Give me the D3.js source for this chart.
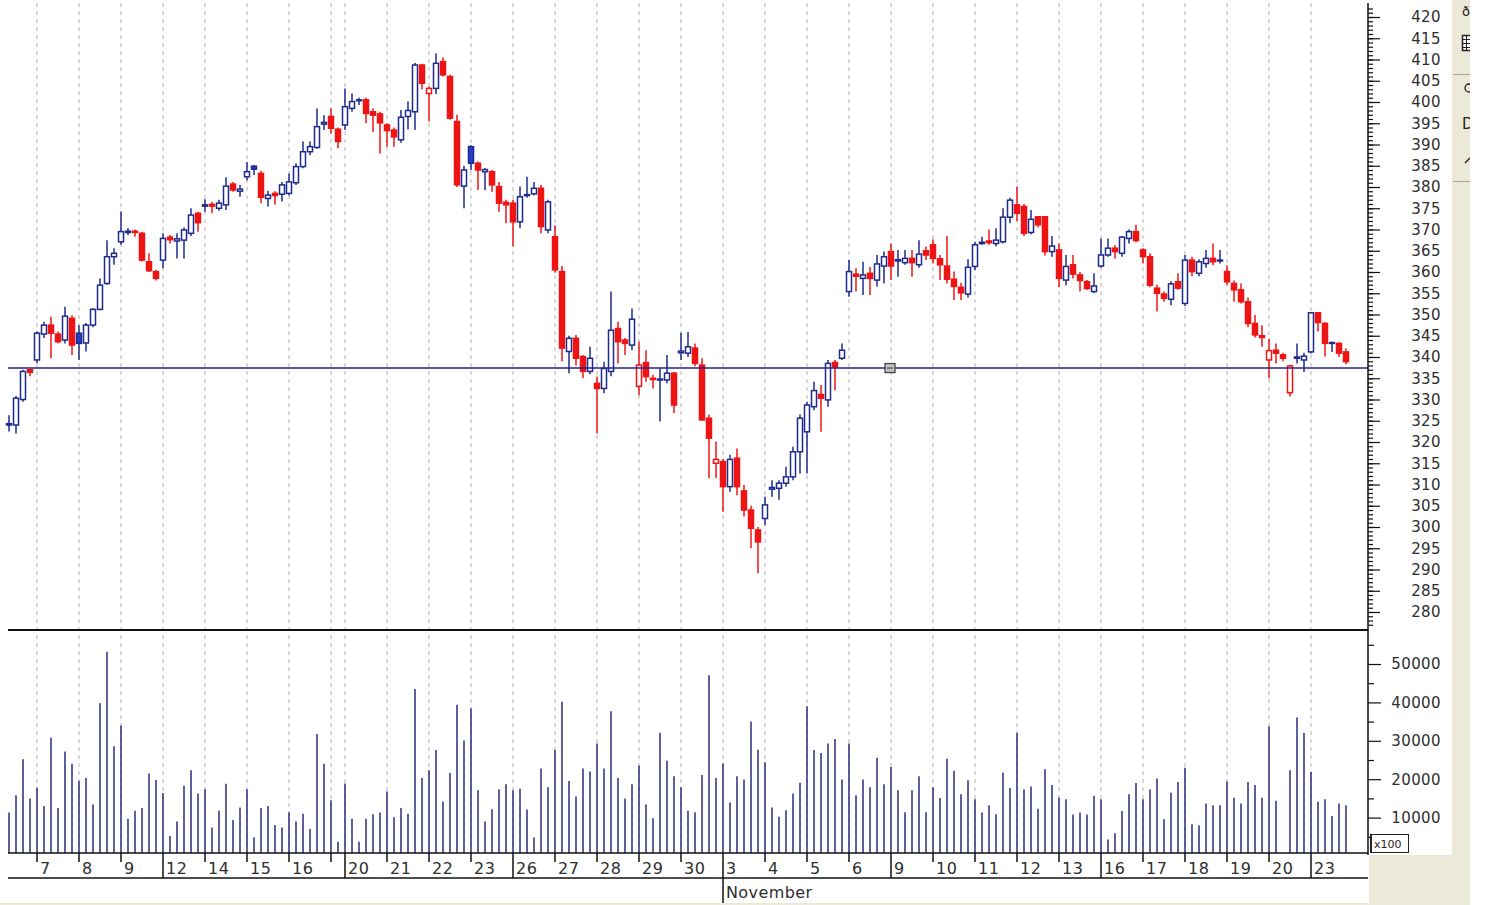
<!DOCTYPE html>
<html>
<head>
<meta charset="utf-8">
<script src="https://cdn.jsdelivr.net/npm/d3@7"></script>
<style>
  body { margin: 0; background: #fff; }
  svg { display: block; font-family: "DejaVu Sans", sans-serif; }
</style>
</head>
<body>
<svg id="chart" width="1485" height="905"></svg>
<script>
// hourly bars, 6 per session
const opens = [
  324.0,324.0,330.0,337.0,339.3,345.4,347.5,345.4,344.0,349.1,
  345.6,343.3,347.5,351.2,357.3,363.6,367.1,369.3,369.6,369.1,
  362.4,360.1,362.8,368.2,367.3,367.5,369.1,373.8,375.5,375.9,
  375.0,375.8,380.7,379.0,382.4,384.9,383.2,377.3,378.5,378.3,
  378.5,381.0,384.8,388.3,389.3,394.8,396.6,393.6,394.6,398.5,
  400.3,400.5,397.7,397.2,394.6,393.4,391.1,396.6,397.7,408.7,
  402.0,403.2,409.5,406.0,395.4,380.2,389.5,385.6,383.6,383.6,
  380.1,376.4,376.2,371.8,378.0,378.4,379.7,369.9,368.3,360.1,
  341.3,344.4,340.1,336.6,333.8,332.6,336.6,346.7,344.0,342.8,
  333.1,338.7,335.0,334.6,334.6,336.2,341.0,340.9,342.1,338.1,
  325.6,315.0,315.4,309.5,316.2,308.5,304.0,299.3,302.0,308.9,
  309.1,310.3,311.8,317.7,322.4,328.3,331.2,329.9,338.7,339.7,
  355.4,359.5,358.5,359.7,358.1,361.4,364.8,362.6,362.2,363.2,
  361.7,365.0,366.4,363.1,361.4,358.3,356.4,354.8,361.3,366.7,
  367.3,366.7,367.1,372.9,375.8,375.4,369.3,373.0,373.0,364.8,
  365.2,358.1,361.7,359.3,357.7,355.4,361.4,364.0,365.6,364.4,
  367.9,369.5,365.2,363.6,356.2,354.8,353.6,357.7,352.6,362.8,
  359.7,362.0,363.2,362.6,360.1,357.3,355.8,353.0,347.9,345.0,
  339.3,341.6,340.5,331.6,339.7,339.3,341.2,350.4,347.9,343.2,
  343.2,341.2
];
const highs = [
  326.3,330.8,337.0,337.2,346.0,348.3,349.5,346.0,351.8,349.8,
  347.5,348.0,351.5,358.5,367.5,365.6,374.2,370.3,370.0,369.5,
  364.4,360.5,369.1,368.7,369.1,370.5,375.0,374.2,377.1,376.5,
  377.0,382.3,381.2,380.5,385.9,385.2,383.8,379.1,379.0,381.2,
  383.2,385.6,390.7,390.7,398.5,396.9,398.5,394.0,403.2,402.0,
  401.0,401.0,398.5,397.7,395.0,394.0,398.1,400.1,409.2,409.0,
  403.6,411.4,410.5,406.4,397.0,385.0,389.8,386.0,384.5,384.0,
  381.2,377.0,377.0,380.1,382.4,381.2,380.5,377.0,371.0,361.4,
  345.0,345.2,340.5,342.4,335.4,338.9,355.4,348.3,344.5,351.4,
  343.6,341.6,335.8,337.3,340.5,336.5,345.7,345.9,343.2,339.7,
  326.4,320.1,316.0,317.0,318.5,309.9,305.0,300.0,307.1,311.0,
  311.0,314.2,318.9,326.5,329.5,334.2,333.4,339.3,339.3,343.2,
  362.8,360.9,362.4,361.2,364.0,364.8,366.7,365.2,365.2,365.2,
  367.5,366.0,367.7,364.0,368.5,360.1,357.5,363.0,367.1,368.3,
  370.0,370.3,375.0,377.5,380.1,376.0,374.6,373.2,373.2,368.5,
  366.7,364.0,364.0,360.0,358.1,359.7,367.9,367.9,366.3,368.5,
  370.0,371.1,365.6,364.4,357.0,355.4,357.8,359.7,364.0,363.6,
  363.0,365.2,366.7,365.2,361.6,358.0,357.3,354.0,349.9,347.5,
  344.3,343.2,341.0,338.2,343.2,341.0,350.6,350.6,348.2,343.6,
  343.5,342.0
];
const lows = [
  322.5,322.0,329.5,335.5,338.6,344.5,339.7,343.2,343.2,340.5,
  339.3,341.3,347.0,351.0,357.0,361.7,366.4,368.7,368.3,362.5,
  360.0,358.0,360.9,366.7,363.2,363.2,368.5,369.5,374.2,373.8,
  374.4,374.6,378.9,377.7,381.6,382.8,376.2,375.4,375.8,376.6,
  378.0,380.5,384.4,387.5,389.0,393.4,392.6,389.1,393.4,397.7,
  399.3,395.0,393.0,387.9,389.5,389.5,390.4,393.6,393.4,403.0,
  395.4,401.9,406.0,395.8,380.0,375.0,384.0,379.3,379.3,378.9,
  374.2,371.5,366.0,370.3,377.5,378.0,369.1,369.1,359.8,339.0,
  336.2,338.0,335.0,336.0,322.0,331.5,335.5,338.5,340.5,341.6,
  331.0,334.2,332.6,324.8,333.8,326.8,339.3,340.0,337.8,325.0,
  311.5,311.5,303.6,308.3,307.5,302.5,295.0,289.1,300.5,307.1,
  306.4,309.5,311.0,312.6,312.6,327.5,322.4,328.3,332.2,339.3,
  354.2,355.4,354.6,354.6,356.6,357.3,358.1,358.9,361.7,358.9,
  361.0,362.8,362.0,358.1,357.3,353.4,353.4,354.0,360.5,366.4,
  366.4,366.0,366.7,371.5,372.0,368.5,368.9,370.5,363.9,363.6,
  356.4,356.9,358.5,355.4,355.8,355.0,361.0,363.6,363.2,363.6,
  366.7,367.0,362.0,356.4,350.7,353.0,352.2,355.8,352.0,359.0,
  359.0,361.0,361.6,362.0,357.0,353.0,352.6,347.0,344.6,342.4,
  335.0,338.5,339.0,330.7,338.5,336.5,340.8,346.0,340.1,341.2,
  340.0,338.3
];
const closes = [
  324.3,330.3,336.6,336.4,345.6,347.5,345.6,343.6,349.6,342.8,
  343.2,347.5,351.2,356.9,363.6,364.4,369.5,369.6,369.3,362.8,
  360.3,358.5,367.9,367.6,367.8,369.9,373.4,371.6,375.8,375.5,
  376.2,380.2,379.3,379.5,383.6,384.2,377.6,378.1,378.0,380.5,
  381.2,384.8,388.3,389.5,394.2,395.2,393.8,390.7,398.9,400.1,
  400.5,397.3,396.9,395.1,393.3,391.8,396.4,398.0,408.7,404.4,
  403.2,409.1,406.4,396.2,380.5,384.0,385.6,384.0,384.1,380.5,
  376.2,375.8,371.8,377.7,378.2,379.7,370.7,376.5,360.5,342.1,
  344.4,339.7,336.6,339.7,332.6,337.3,346.3,343.6,343.2,348.9,
  338.1,335.4,334.7,334.8,336.2,328.7,341.4,342.4,338.5,325.2,
  320.9,315.9,309.5,315.9,309.5,304.0,299.7,296.5,305.2,309.3,
  310.3,311.8,317.7,325.6,328.7,332.1,330.3,338.5,337.7,341.6,
  360.1,359.0,359.3,358.5,361.9,363.6,361.4,362.9,363.2,362.2,
  364.2,364.0,363.2,361.7,358.3,356.6,355.1,361.1,366.4,367.0,
  366.9,367.5,372.9,376.9,373.8,369.1,372.4,371.1,364.8,366.1,
  358.5,361.3,359.5,358.0,356.1,356.7,364.0,365.6,364.8,368.2,
  369.5,367.4,363.6,356.9,355.0,353.8,357.2,356.2,362.8,360.1,
  362.4,363.2,362.4,362.8,357.7,355.8,353.0,347.9,345.2,344.6,
  341.5,340.9,339.7,337.9,340.0,340.2,350.4,348.1,343.2,343.4,
  340.9,338.9
];
// volume as shown on the axis (x100 units)
const volumes = [
  11300,15800,25200,15000,17800,13000,30800,12500,27200,24000,
  19500,20300,13400,39800,53200,28600,34000,9700,11800,12500,
  21500,19800,16400,5200,9000,18300,22300,16300,17400,7400,
  11800,18800,9400,12600,17400,4900,12500,13000,8100,7400,
  11300,9000,11000,7000,31800,24000,14500,3700,18900,9700,
  3700,9700,10900,11300,16800,10100,12500,11000,43500,20300,
  22300,27600,14200,21600,39400,30100,38400,17100,9000,12200,
  17400,18700,17100,17500,12100,4800,22800,17900,27600,40200,
  19500,15500,22800,22000,29300,22800,37700,20300,15000,18700,
  23600,13400,9800,32100,24800,20800,17900,11800,11400,21100,
  47100,20300,24100,13900,20800,19900,35000,27700,24400,12600,
  10200,11900,16300,19100,39000,27600,26800,29300,30500,19900,
  29300,15800,19900,17900,25600,18700,23200,17100,11400,17100,
  20800,11400,17900,15100,25300,22200,16100,19700,14800,11300,
  13200,10900,21700,17700,32000,17300,18100,12300,22600,18500,
  15200,14800,10800,11300,10800,15700,14800,4300,5900,11700,
  16100,19000,14800,17300,20200,9600,16500,19300,23000,8300,
  8000,13700,13200,13200,19400,15200,13700,19300,18500,15200,
  33700,14400,0,22300,36100,32000,21900,14100,14800,10400,
  13700,13200
];
// sessions on the time axis
const dayLabels = ["", "7", "8", "9", "12", "14", "15", "16", "", "20", "21", "22", "23",
  "26", "27", "28", "29", "30", "3", "4", "5", "6", "9", "10", "11", "12", "13",
  "16", "17", "18", "19", "20", "23"];
const dayBars = [4, 6, 6, 6, 6, 6, 6, 6, 2, 6, 6, 6, 6,
  6, 6, 6, 6, 6, 6, 6, 6, 6, 6, 6, 6, 6, 6,
  6, 6, 6, 6, 6, 6];
const weekStarts = [false, false, false, false, true, false, false, false, false, true, false, false, false,
  true, false, false, false, false, true, false, false, false, true, false, false, false, false,
  true, false, false, false, false, true];
const monthLabel = "November";
const monthStartDay = 18;
const levelPrice = 337.4;
const levelHandleBar = 126;

const svg = d3.select("#chart");
const width = 1485, height = 905;
const plotLeft = 8, plotRight = 1368;
const priceTop = 3, priceBottom = 629;
const volBottom = 853;

const upColor = "#1e2a8c";
const upFill = "#2340c8";
const downColor = "#ee1414";
const gridColor = "#b4b4b4";

const x = d3.scaleLinear().domain([0, closes.length - 1]).range([9, 9 + 7 * (closes.length - 1)]);
const yP = d3.scaleLinear().domain([280, 420]).range([612, 17]);
const yV = d3.scaleLinear().domain([0, 50000]).range([856, 664]);

// backgrounds
svg.append("rect").attr("width", width).attr("height", height).attr("fill", "#fff");
svg.append("rect").attr("x", 1452).attr("y", 0).attr("width", 18).attr("height", height).attr("fill", "#ece9d8");
svg.append("rect").attr("x", 1369).attr("y", 855).attr("width", 101).attr("height", 50).attr("fill", "#ece9d8");
svg.append("rect").attr("x", 0).attr("y", 903).attr("width", 1470).attr("height", 2).attr("fill", "#ece9d8");

// session start indices
let acc = 0;
const days = dayLabels.map((label, k) => {
  const d = { label: label, start: acc, week: weekStarts[k], k: k };
  acc += dayBars[k];
  return d;
});
const dayTicks = days.slice(1);

// dashed day gridlines
svg.append("g").selectAll("line")
  .data(dayTicks)
  .enter().append("line")
  .attr("x1", d => x(d.start)).attr("x2", d => x(d.start))
  .attr("y1", priceTop).attr("y2", volBottom)
  .attr("stroke", gridColor).attr("stroke-width", 1)
  .attr("stroke-dasharray", "4,4");

// candles
const bars = closes.map((c, i) => ({
  i: i, o: opens[i], h: highs[i], l: lows[i], c: c,
  up: i === 0 ? true : c >= closes[i - 1]
}));

const candle = svg.append("g").selectAll("g")
  .data(bars)
  .enter().append("g");

candle.append("line")
  .attr("x1", d => x(d.i)).attr("x2", d => x(d.i))
  .attr("y1", d => yP(d.h)).attr("y2", d => yP(d.l))
  .attr("stroke", d => d.up ? upColor : downColor)
  .attr("stroke-width", 1.5);

candle.append("rect")
  .attr("x", d => x(d.i) - 2.5)
  .attr("width", 5)
  .attr("y", d => yP(Math.max(d.o, d.c)))
  .attr("height", d => Math.max(0.8, Math.abs(yP(d.o) - yP(d.c))))
  .attr("fill", d => d.c >= d.o ? "#fff" : (d.up ? upFill : downColor))
  .attr("stroke", d => d.up ? upColor : downColor)
  .attr("stroke-width", 1.5);

// horizontal level line and its handle
svg.append("line")
  .attr("x1", plotLeft).attr("x2", plotRight)
  .attr("y1", yP(levelPrice)).attr("y2", yP(levelPrice))
  .attr("stroke", "#23238c").attr("stroke-width", 1.5);
svg.append("rect")
  .attr("x", x(levelHandleBar) - 6).attr("y", yP(levelPrice) - 4.5)
  .attr("width", 10).attr("height", 9)
  .attr("fill", "#c4c4c4").attr("stroke", "#444").attr("stroke-width", 1.3);
svg.append("line")
  .attr("x1", x(levelHandleBar) - 4).attr("x2", x(levelHandleBar) + 2)
  .attr("y1", yP(levelPrice)).attr("y2", yP(levelPrice))
  .attr("stroke", "#666").attr("stroke-width", 1.5);

// volume bars
svg.append("g").selectAll("line")
  .data(volumes.map((v, i) => ({ i: i, v: v })).filter(d => d.v > 0))
  .enter().append("line")
  .attr("x1", d => x(d.i)).attr("x2", d => x(d.i))
  .attr("y1", volBottom).attr("y2", d => yV(d.v))
  .attr("stroke", "#2a2d7e").attr("stroke-width", 1.5);

// panel frame lines
svg.append("line").attr("x1", plotLeft).attr("x2", plotRight)
  .attr("y1", 630).attr("y2", 630).attr("stroke", "#111").attr("stroke-width", 2);
svg.append("line").attr("x1", plotLeft).attr("x2", plotRight)
  .attr("y1", volBottom).attr("y2", volBottom).attr("stroke", "#111").attr("stroke-width", 1.5);
svg.append("line").attr("x1", plotLeft).attr("x2", plotRight)
  .attr("y1", 878).attr("y2", 878).attr("stroke", "#111").attr("stroke-width", 1.5);
svg.append("line").attr("x1", plotRight).attr("x2", plotRight)
  .attr("y1", priceTop).attr("y2", 855).attr("stroke", "#111").attr("stroke-width", 1.5);

// price axis
function styleAxis(g) {
  g.select(".domain").remove();
  g.selectAll(".tick line").attr("stroke", "#111").attr("stroke-width", 1.2);
  g.selectAll(".tick text")
    .attr("x", 73).attr("text-anchor", "end")
    .attr("fill", "#2e2e2e")
    .style("font-family", "'DejaVu Sans', sans-serif")
    .style("font-size", "15px")
    .style("letter-spacing", "0.4px");
}
svg.append("g").attr("transform", `translate(${plotRight},0)`)
  .call(d3.axisRight(yP).tickValues(d3.range(277, 423)).tickSize(5).tickFormat(""))
  .call(styleAxis);
svg.append("g").attr("transform", `translate(${plotRight},0)`)
  .call(d3.axisRight(yP).tickValues(d3.range(280, 421, 5)).tickSize(12).tickFormat(d3.format("d")))
  .call(styleAxis);

// volume axis
svg.append("g").attr("transform", `translate(${plotRight},0)`)
  .call(d3.axisRight(yV).tickValues(d3.range(5000, 56000, 10000)).tickSize(6).tickFormat(""))
  .call(styleAxis);
svg.append("g").attr("transform", `translate(${plotRight},0)`)
  .call(d3.axisRight(yV).tickValues(d3.range(10000, 50001, 10000)).tickSize(13).tickFormat(d3.format("d")))
  .call(styleAxis);

// x100 box
svg.append("rect").attr("x", 1370.5).attr("y", 834.5).attr("width", 38).attr("height", 18)
  .attr("fill", "#fff").attr("stroke", "#222").attr("stroke-width", 1);
svg.append("line").attr("x1", 1371).attr("x2", 1371).attr("y1", 834).attr("y2", 853)
  .attr("stroke", "#222").attr("stroke-width", 2);
svg.append("text").attr("x", 1374).attr("y", 848).text("x100")
  .attr("fill", "#222").style("font-size", "11px");

// time axis ticks and labels
const xAxis = svg.append("g");
xAxis.selectAll("line")
  .data(dayTicks)
  .enter().append("line")
  .attr("x1", d => x(d.start)).attr("x2", d => x(d.start))
  .attr("y1", volBottom)
  .attr("y2", d => d.k === monthStartDay ? 903 : (d.week ? 878 : 862))
  .attr("stroke", "#111").attr("stroke-width", 1.5);
xAxis.selectAll("text")
  .data(dayTicks.filter(d => d.label !== ""))
  .enter().append("text")
  .attr("x", d => x(d.start) + 3)
  .attr("y", 874)
  .text(d => d.label)
  .attr("fill", "#2e2e2e")
  .style("font-size", "16px")
  .style("letter-spacing", "0.5px");
svg.append("text")
  .attr("x", x(days[monthStartDay].start) + 3)
  .attr("y", 898)
  .text(monthLabel)
  .attr("fill", "#2e2e2e")
  .style("font-size", "16px")
  .style("letter-spacing", "0.4px");

// side toolbar (partly cut off)
const tb = svg.append("g");
tb.append("text").attr("x", 1462).attr("y", 16).text("ð").attr("fill", "#222").style("font-size", "13px");
tb.append("rect").attr("x", 1462.5).attr("y", 35.5).attr("width", 10).attr("height", 15)
  .attr("fill", "#fff").attr("stroke", "#222").attr("stroke-width", 1.5);
[39.5, 43.5, 47.5].forEach(yy => tb.append("line").attr("x1", 1462).attr("x2", 1472)
  .attr("y1", yy).attr("y2", yy).attr("stroke", "#222"));
tb.append("line").attr("x1", 1466.5).attr("x2", 1466.5).attr("y1", 35).attr("y2", 51).attr("stroke", "#222");
tb.append("line").attr("x1", 1453).attr("x2", 1470).attr("y1", 74.5).attr("y2", 74.5).attr("stroke", "#a8a598");
tb.append("circle").attr("cx", 1469).attr("cy", 88).attr("r", 4).attr("fill", "none").attr("stroke", "#222").attr("stroke-width", 1.3);
tb.append("text").attr("x", 1462).attr("y", 129).text("D").attr("fill", "#222").style("font-size", "15px");
tb.append("path").attr("d", "M1465,163 L1470,158").attr("stroke", "#222").attr("stroke-width", 1.5);
tb.append("line").attr("x1", 1453).attr("x2", 1470).attr("y1", 181.5).attr("y2", 181.5).attr("stroke", "#a8a598");
svg.append("rect").attr("x", 1470).attr("y", 0).attr("width", 15).attr("height", height).attr("fill", "#fff");
</script>
</body>
</html>
